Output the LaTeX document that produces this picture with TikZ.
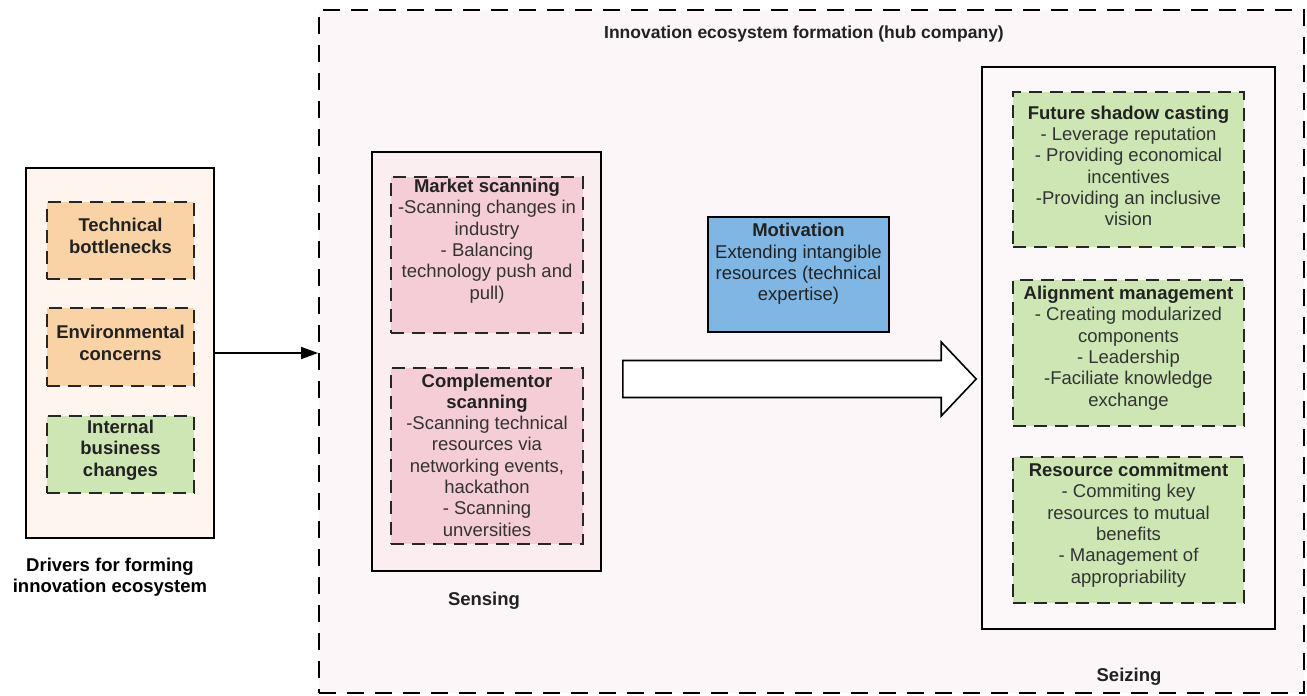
\documentclass[tikz,border=0pt]{standalone}
\usepackage{fontspec}
\setmainfont{Liberation Sans}
\usetikzlibrary{arrows.meta}

\definecolor{hubfill}{HTML}{FCF6F8}
\definecolor{drvfill}{HTML}{FEF6EE}
\definecolor{orangebox}{HTML}{F9D3A6}
\definecolor{greenbox}{HTML}{CDE6B4}
\definecolor{pinkbox}{HTML}{F5CDD7}
\definecolor{sensefill}{HTML}{FBEEF1}
\definecolor{seizefill}{HTML}{FCF8FA}
\definecolor{bluebox}{HTML}{7FB6E4}
\definecolor{ink}{HTML}{333333}
\definecolor{headink}{HTML}{222222}

\begin{document}
\begin{tikzpicture}[x=1pt,y=-1pt,
  frame/.style={draw=black, line width=1.6pt, inner sep=0pt},
  dbox/.style={draw=black!85, line width=1.6pt, dash pattern=on 13pt off 8pt, inner sep=0pt},
  hubframe/.style={draw=black, line width=1.8pt, dash pattern=on 17pt off 11pt, inner sep=0pt},
  txt/.style={font=\fontsize{18.5}{21.3}\selectfont, text=ink, align=center, inner sep=0pt},
  head/.style={font=\fontsize{18.5}{21.3}\selectfont\bfseries, text=headink, align=center, inner sep=0pt},
]
% canvas
\fill[white] (0,0) rectangle (1307,696);
\useasboundingbox (0,0) rectangle (1307,696);

% hub company frame
\node[hubframe, fill=hubfill, minimum width=985pt, minimum height=683pt] (hub) at (811.5,351.5) {};
\node[head, font=\fontsize{17.5}{20}\selectfont\bfseries] (hubtitle) at (804,34) {Innovation ecosystem formation (hub company)};

% drivers panel
\node[frame, fill=drvfill, minimum width=188pt, minimum height=370pt] (drivers) at (120,353) {};
\node[dbox, fill=orangebox, minimum width=147pt, minimum height=77pt] (tb) at (120.5,240.5) {};
\node[head] (tbtext) at (120.5,236) {Technical\\bottlenecks};
\node[dbox, fill=orangebox, minimum width=147pt, minimum height=78pt] (ec) at (120.5,347) {};
\node[head] (ectext) at (120.5,343) {Environmental\\concerns};
\node[dbox, fill=greenbox, minimum width=147pt, minimum height=77pt] (ib) at (120.5,454.5) {};
\node[head] (ibtext) at (120.5,450) {Internal\\business\\changes};
\node[head, text=black] (drvlabel) at (110,577) {Drivers for forming\\innovation ecosystem};

\draw[line width=1.5pt, -{Triangle[length=17pt,width=12pt]}] (drivers.east) -- (drivers.east -| hub.west);

% sensing
\node[frame, fill=sensefill, minimum width=229pt, minimum height=419pt] (sensing) at (486.5,361.5) {};
\node[dbox, fill=pinkbox, minimum width=192pt, minimum height=156pt] (ms) at (487,255) {};
\node[txt] (mstext) at (487,241) {\textbf{\color{headink}Market scanning}\\-Scanning changes in\\industry\\- Balancing\\technology push and\\pull)};
\node[dbox, fill=pinkbox, minimum width=192pt, minimum height=176pt] (cs) at (487,456) {};
\node[txt] (cstext) at (487,455) {\textbf{\color{headink}Complementor}\\\textbf{\color{headink}scanning}\\-Scanning technical\\resources via\\networking events,\\hackathon\\- Scanning\\unversities};
\node[head] (senselabel) at (484,601) {Sensing};

% motivation
\node[frame, fill=bluebox, minimum width=181pt, minimum height=115pt] (mot) at (798.5,274.5) {};
\node[txt, text=headink] (mottext) at (798.5,264) {\textbf{Motivation}\\Extending intangible\\resources (technical\\expertise)};

% seizing
\node[frame, fill=seizefill, minimum width=293pt, minimum height=562pt] (seizing) at (1128.5,348) {};
\node[dbox, fill=greenbox, minimum width=231pt, minimum height=155pt] (fs) at (1128.5,169.5) {};
\node[txt] (fstext) at (1128.5,166) {\textbf{\color{headink}Future shadow casting}\\- Leverage reputation\\- Providing economical\\incentives\\-Providing an inclusive\\vision};
\node[dbox, fill=greenbox, minimum width=231pt, minimum height=146pt] (am) at (1128.5,353) {};
\node[txt] (amtext) at (1128.5,348) {\textbf{\color{headink}Alignment management}\\- Creating modularized\\components\\- Leadership\\-Faciliate knowledge\\exchange};
\node[dbox, fill=greenbox, minimum width=231pt, minimum height=146pt] (rc) at (1128.5,530) {};
\node[txt] (rctext) at (1128.5,525) {\textbf{\color{headink}Resource commitment}\\- Commiting key\\resources to mutual\\benefits\\- Management of\\appropriability};
\node[head] (seizelabel) at (1129,677) {Seizing};

% block arrow from sensing to seizing
\coordinate (fatfrom) at ([xshift=21pt]sensing.east |- 0,379);
\coordinate (fatto) at ([xshift=-5pt]seizing.west |- 0,379);
\draw[line width=1.6pt, fill=white, line join=miter]
  ([yshift=-18.5pt]fatfrom) -- ([xshift=-35pt,yshift=-18.5pt]fatto)
  -- ([xshift=-35pt,yshift=-37pt]fatto) -- (fatto)
  -- ([xshift=-35pt,yshift=37pt]fatto) -- ([xshift=-35pt,yshift=18.5pt]fatto)
  -- ([yshift=18.5pt]fatfrom) -- cycle;
\end{tikzpicture}
\end{document}
